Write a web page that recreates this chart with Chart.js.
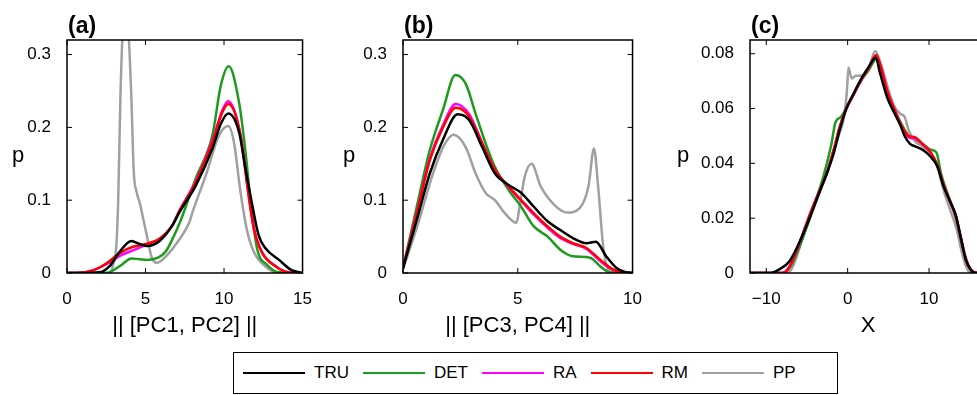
<!DOCTYPE html>
<html>
<head>
<meta charset="utf-8">
<title>Density comparison</title>
<script src="https://cdn.jsdelivr.net/npm/chart.js"></script>
<style>
    body {
        margin: 0;
        width: 977px;
        height: 395px;
        overflow: hidden;
        position: relative;
        background: #fff;
        font-family: 'Liberation Sans', Arial, sans-serif;
    }
    canvas { position: absolute; top: 0; }
    #legend {
        position: absolute;
        left: 233px;
        top: 352px;
        width: 594px;
        height: 40px;
        border: 1.5px solid #000;
        display: flex;
        align-items: center;
        padding-left: 9px;
        box-sizing: content-box;
    }
    .item { display: flex; align-items: center; font-size: 17px; color: #000; }
    .swatch { width: 62px; height: 2px; margin-right: 9px; }
    .item span { margin-right: 14px; }
</style>
</head>
<body>
<canvas id="pa" width="320" height="345" style="left:0px"></canvas>
<canvas id="pb" width="320" height="345" style="left:330px"></canvas>
<canvas id="pc" width="340" height="345" style="left:660px"></canvas>
<div id="legend"></div>

<script>
// series
const SERIES = ['TRU', 'DET', 'RA', 'RM', 'PP'];
const COLORS = ['#000000', '#1c9c1c', '#ff00ff', '#ff0000', '#a0a0a0'];

// panel (a): || [PC1, PC2] ||
const A_TRU = [[0,0],[1,0],[2.1,0.001],[2.7,0.009],[3.35,0.029],[4.1,0.044],[4.6,0.04],[5.1,0.037],[5.9,0.044],[6.7,0.065],[7.15,0.083],[8.2,0.12],[9.26,0.171],[9.8,0.205],[10.27,0.219],[10.95,0.194],[11.37,0.143],[11.8,0.093],[12.2,0.052],[12.64,0.034],[13.5,0.018],[14.3,0.004],[15,0]];
const A_DET = [[0,0],[2.5,0],[3.4,0.01],[4.1,0.02],[4.6,0.019],[5.1,0.018],[5.8,0.021],[6.3,0.03],[6.7,0.046],[7.2,0.07],[8.2,0.13],[9.26,0.189],[9.8,0.258],[10.3,0.284],[10.95,0.235],[11.37,0.166],[11.69,0.098],[12.1,0.034],[12.75,0.011],[13.5,0.001],[15,0]];
const A_RA = [[0,0],[0.6,0],[1.7,0.004],[2.5,0.012],[3.4,0.024],[4.2,0.031],[5.05,0.039],[5.9,0.047],[6.7,0.065],[7.15,0.085],[8.2,0.126],[9.26,0.182],[9.9,0.224],[10.27,0.236],[11.05,0.19],[11.48,0.121],[11.9,0.061],[12.4,0.029],[13.3,0.009],[14.1,0.001],[15,0]];
const A_RM = [[0,0],[0.6,0],[1.7,0.004],[2.5,0.013],[3.4,0.028],[4.2,0.036],[5.05,0.04],[5.9,0.047],[6.7,0.065],[7.15,0.085],[8.2,0.125],[9.26,0.18],[9.9,0.221],[10.27,0.232],[11.05,0.189],[11.48,0.12],[11.9,0.061],[12.4,0.029],[13.3,0.009],[14.1,0.001],[15,0]];
const A_PP = [[0,0],[2.7,0],[2.95,0.012],[3.15,0.04],[3.26,0.1],[3.4,0.24],[3.54,0.33],[3.72,0.38],[3.92,0.33],[4.1,0.24],[4.25,0.14],[4.45,0.11],[4.65,0.095],[4.85,0.075],[5.05,0.055],[5.37,0.023],[5.7,0.014],[6.3,0.023],[7.15,0.046],[7.8,0.07],[8.0,0.084],[8.84,0.134],[9.68,0.189],[10.27,0.202],[10.63,0.18],[11.05,0.111],[11.48,0.057],[11.9,0.029],[12.64,0.009],[13.5,0],[15,0]];

// panel (b): || [PC3, PC4] ||
const B_TRU = [[0,0.007],[0.6,0.073],[1.17,0.137],[1.74,0.183],[2.38,0.218],[2.88,0.21],[3.45,0.173],[4.0,0.137],[4.6,0.121],[5.15,0.11],[5.7,0.091],[6.3,0.071],[6.85,0.059],[7.4,0.048],[8.0,0.041],[8.4,0.043],[8.85,0.023],[9.3,0.007],[9.7,0.001],[10,0]];
const B_DET = [[0,0.007],[0.6,0.091],[1.17,0.169],[1.74,0.224],[2.28,0.272],[2.73,0.26],[3.16,0.219],[3.6,0.178],[4.0,0.146],[4.6,0.114],[5.15,0.091],[5.7,0.064],[6.3,0.05],[6.85,0.032],[7.4,0.023],[8.15,0.021],[8.6,0.009],[9.0,0.001],[10,0]];
const B_RA = [[0,0.007],[0.6,0.083],[1.17,0.157],[1.74,0.203],[2.3,0.232],[2.88,0.218],[3.45,0.179],[4.0,0.142],[4.6,0.118],[5.15,0.099],[5.7,0.08],[6.3,0.062],[6.85,0.048],[7.4,0.04],[8.0,0.033],[8.6,0.016],[9.15,0.004],[9.7,0],[10,0]];
const B_RM = [[0,0.007],[0.6,0.082],[1.17,0.155],[1.74,0.2],[2.3,0.227],[2.88,0.215],[3.45,0.178],[4.0,0.142],[4.6,0.119],[5.15,0.1],[5.7,0.082],[6.3,0.064],[6.85,0.05],[7.4,0.041],[8.0,0.034],[8.6,0.018],[9.15,0.005],[9.7,0],[10,0]];
const B_PP = [[0,0.005],[0.64,0.066],[1.28,0.134],[1.78,0.175],[2.2,0.19],[2.73,0.173],[3.16,0.137],[3.6,0.11],[4.0,0.1],[4.44,0.082],[4.94,0.069],[5.08,0.091],[5.3,0.132],[5.6,0.15],[6.0,0.119],[6.58,0.094],[7.15,0.083],[7.7,0.089],[8.08,0.119],[8.32,0.171],[8.5,0.119],[8.72,0.037],[8.93,0.005],[9.15,0],[10,0]];

// panel (c): X
const C_TRU = [[-12,0],[-9.5,0],[-8.3,0.0015],[-7.1,0.0045],[-5.8,0.012],[-4.6,0.0206],[-3.36,0.0303],[-2.54,0.0364],[-1.72,0.0436],[-0.9,0.053],[-0.08,0.0606],[0.74,0.0655],[1.56,0.0703],[2.58,0.0752],[3.45,0.0785],[4.0,0.0727],[4.84,0.0642],[5.66,0.0588],[6.48,0.0539],[7.0,0.05],[7.7,0.047],[8.3,0.0462],[9.3,0.0448],[10.2,0.0424],[11.0,0.039],[11.8,0.0315],[12.6,0.026],[13.3,0.021],[13.9,0.013],[14.5,0.005],[15.2,0.0008],[15.8,0],[17,0]];
const C_DET = [[-12,0],[-8,0],[-7,0.0025],[-6,0.009],[-5,0.017],[-4,0.026],[-3,0.035],[-2,0.047],[-1.5,0.055],[-0.8,0.057],[-0.2,0.06],[0.7,0.065],[1.6,0.07],[2.6,0.074],[3.5,0.078],[4.0,0.075],[4.9,0.066],[5.7,0.06],[6.5,0.055],[7.5,0.05],[8.3,0.049],[9.3,0.047],[10.2,0.045],[10.9,0.044],[11.5,0.036],[12.4,0.028],[13.3,0.02],[13.9,0.012],[14.5,0.005],[15.2,0.001],[16,0],[17,0]];
const C_RA = [[-12,0],[-8,0],[-7.2,0.002],[-6.3,0.008],[-5.3,0.016],[-4.3,0.024],[-3.3,0.031],[-2.5,0.037],[-1.7,0.045],[-1,0.053],[-0.3,0.059],[0.7,0.065],[1.6,0.07],[2.6,0.075],[3.5,0.079],[4.1,0.075],[4.9,0.066],[5.7,0.06],[6.5,0.0545],[7.5,0.0495],[8.3,0.049],[9.2,0.047],[10.2,0.044],[11,0.0395],[11.8,0.032],[12.6,0.026],[13.3,0.0205],[13.9,0.013],[14.5,0.0055],[15.2,0.001],[16,0],[17,0]];
const C_RM = [[-12,0],[-8,0],[-7.2,0.002],[-6.3,0.008],[-5.3,0.016],[-4.3,0.024],[-3.3,0.031],[-2.5,0.037],[-1.7,0.045],[-1,0.053],[-0.3,0.059],[0.7,0.065],[1.6,0.07],[2.6,0.075],[3.5,0.0795],[4.1,0.075],[4.9,0.066],[5.7,0.06],[6.5,0.0545],[7.5,0.05],[8.3,0.0495],[9.2,0.047],[10.2,0.044],[11,0.0395],[11.8,0.032],[12.6,0.026],[13.3,0.0205],[13.9,0.013],[14.5,0.0055],[15.2,0.001],[16,0],[17,0]];
const C_PP = [[-12,0],[-8,0],[-7,0.001],[-6.5,0.004],[-5.5,0.013],[-4.5,0.021],[-3.5,0.029],[-2.5,0.037],[-1.7,0.045],[-1,0.051],[-0.5,0.056],[-0.1,0.066],[0.1,0.075],[0.5,0.071],[1.0,0.072],[1.6,0.072],[2.5,0.074],[3.4,0.081],[4.0,0.077],[4.9,0.068],[5.7,0.061],[6.5,0.058],[7.0,0.057],[7.5,0.052],[8.3,0.048],[9.3,0.046],[10.2,0.043],[11.0,0.039],[11.8,0.03],[12.6,0.023],[13.4,0.016],[14.0,0.008],[14.6,0.002],[15.2,0],[17,0]];

// ticks
const A_XTICKS = [0, 5, 10, 15];
const A_XLABELS = ['0', '5', '10', '15'];
const B_XTICKS = [0, 5, 10];
const B_XLABELS = ['0', '5', '10'];
const C_XTICKS = [-10, 0, 10];
const C_XLABELS = ['\u221210', '0', '10'];
const AB_YTICKS = [0, 0.1, 0.2, 0.3];
const AB_YLABELS = ['0', '0.1', '0.2', '0.3'];
const C_YTICKS = [0, 0.02, 0.04, 0.06, 0.08];
const C_YLABELS = ['0', '0.02', '0.04', '0.06', '0.08'];

// drawing order: TRU on top, then RM, RA, DET, PP underneath
const ORDER = [0, 3, 2, 1, 4];

const FONT = "'Liberation Sans', Arial, sans-serif";

// MATLAB style box, inward ticks, upright 'p' and panel letter
const matlabFrame = {
    id: 'matlabFrame',
    afterDatasetsDraw(chart, args, opts) {
        const {ctx, chartArea: a, scales} = chart;
        ctx.save();
        ctx.strokeStyle = '#000';
        ctx.lineWidth = 1.5;
        ctx.strokeRect(a.left, a.top, a.right - a.left, a.bottom - a.top);
        ctx.lineWidth = 1;
        ctx.beginPath();
        scales.x.ticks.forEach(t => {
            const px = scales.x.getPixelForValue(t.value);
            ctx.moveTo(px, a.bottom); ctx.lineTo(px, a.bottom - 5);
            ctx.moveTo(px, a.top); ctx.lineTo(px, a.top + 5);
        });
        scales.y.ticks.forEach(t => {
            const py = scales.y.getPixelForValue(t.value);
            ctx.moveTo(a.left, py); ctx.lineTo(a.left + 5, py);
            ctx.moveTo(a.right, py); ctx.lineTo(a.right - 5, py);
        });
        ctx.stroke();
        ctx.fillStyle = '#000';
        ctx.font = '22px ' + FONT;
        ctx.textAlign = 'center';
        ctx.textBaseline = 'alphabetic';
        ctx.fillText('p', a.left - opts.pOffset, 162);
        ctx.font = 'bold 23px ' + FONT;
        ctx.textAlign = 'left';
        ctx.fillText(opts.letter, a.left + 1, 33);
        ctx.restore();
    }
};

function makePanel(id, cfg) {
    const datasets = cfg.series.map((pts, i) => ({
        label: SERIES[i],
        data: pts.map(p => ({x: p[0], y: p[1]})),
        borderColor: COLORS[i],
        borderWidth: 2.5,
        pointRadius: 0,
        fill: false,
        cubicInterpolationMode: 'monotone',
        order: ORDER[i]
    }));
    return new Chart(document.getElementById(id), {
        type: 'line',
        data: {datasets},
        options: {
            responsive: false,
            animation: false,
            layout: {padding: {top: 40, right: cfg.padRight, left: 0, bottom: 0}},
            plugins: {
                legend: {display: false},
                tooltip: {enabled: false},
                matlabFrame: {letter: cfg.letter, pOffset: cfg.pOffset}
            },
            scales: {
                x: {
                    type: 'linear',
                    min: cfg.xMin, max: cfg.xMax,
                    afterBuildTicks: s => { s.ticks = cfg.xTicks.map(v => ({value: v})); },
                    afterFit: s => { s.height = 72; },
                    grid: {display: false},
                    border: {display: false},
                    ticks: {
                        color: '#000', font: {size: 17, family: FONT}, padding: 8, maxRotation: 0,
                        callback: v => cfg.xLabels[cfg.xTicks.indexOf(v)]
                    },
                    title: {
                        display: true, text: cfg.xTitle, color: '#000',
                        font: {size: 22, family: FONT}, padding: {top: 0, bottom: 6}
                    }
                },
                y: {
                    type: 'linear',
                    min: 0, max: cfg.yMax,
                    afterBuildTicks: s => { s.ticks = cfg.yTicks.map(v => ({value: v})); },
                    afterFit: s => { s.width = cfg.yW; },
                    grid: {display: false},
                    border: {display: false},
                    ticks: {
                        color: '#000', font: {size: 17, family: FONT}, padding: 8,
                        callback: v => cfg.yLabels[cfg.yTicks.indexOf(v)]
                    }
                }
            }
        },
        plugins: [matlabFrame]
    });
}

makePanel('pa', {
    series: [A_TRU, A_DET, A_RA, A_RM, A_PP], letter: '(a)',
    xMin: 0, xMax: 15, xTicks: A_XTICKS, xLabels: A_XLABELS, xTitle: '|| [PC1, PC2] ||',
    yMax: 0.32, yTicks: AB_YTICKS, yLabels: AB_YLABELS,
    yW: 67, padRight: 15, pOffset: 49
});
makePanel('pb', {
    series: [B_TRU, B_DET, B_RA, B_RM, B_PP], letter: '(b)',
    xMin: 0, xMax: 10, xTicks: B_XTICKS, xLabels: B_XLABELS, xTitle: '|| [PC3, PC4] ||',
    yMax: 0.32, yTicks: AB_YTICKS, yLabels: AB_YLABELS,
    yW: 73, padRight: 13, pOffset: 54
});
makePanel('pc', {
    series: [C_TRU, C_DET, C_RA, C_RM, C_PP], letter: '(c)',
    xMin: -12, xMax: 17, xTicks: C_XTICKS, xLabels: C_XLABELS, xTitle: 'X',
    yMax: 0.085, yTicks: C_YTICKS, yLabels: C_YLABELS,
    yW: 90, padRight: 14, pOffset: 67
});

// legend across the panels
const legend = document.getElementById('legend');
SERIES.forEach((name, i) => {
    const item = document.createElement('div');
    item.className = 'item';
    item.innerHTML = `<div class="swatch" style="background:${COLORS[i]}"></div><span>${name}</span>`;
    legend.appendChild(item);
});
</script>
</body>
</html>
